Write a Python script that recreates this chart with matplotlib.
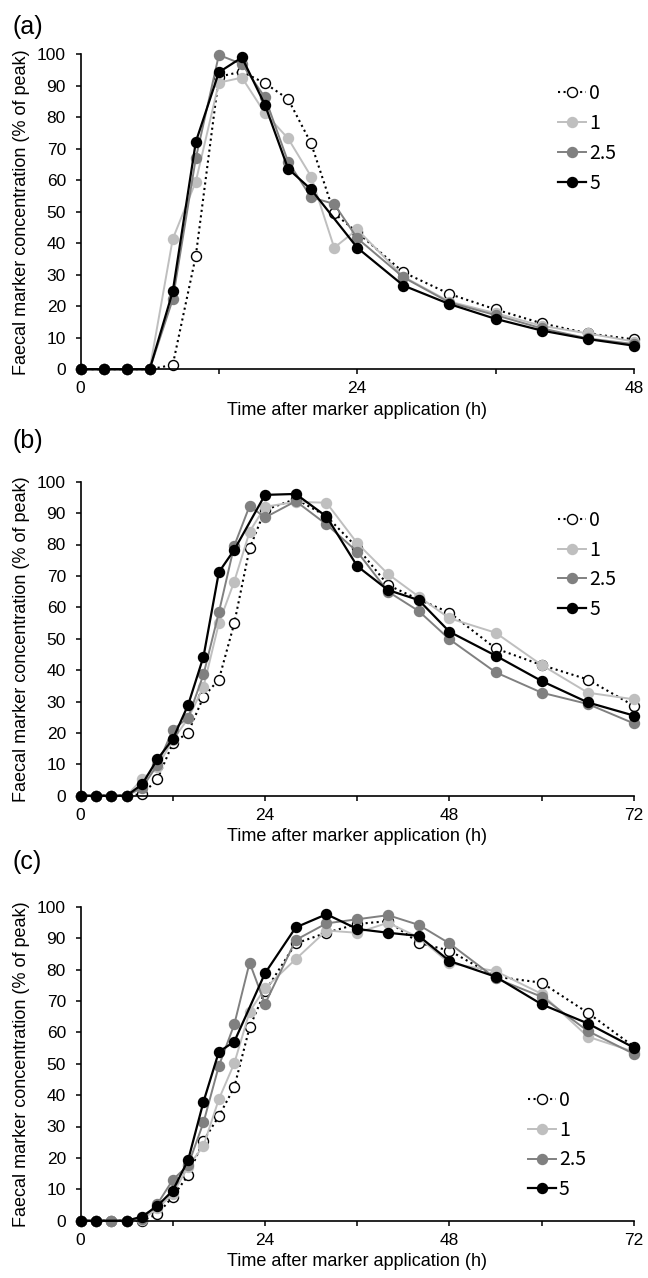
import numpy as np
import matplotlib
matplotlib.use("Agg")
import matplotlib.pyplot as plt

plt.rcParams['font.family'] = ['Liberation Sans', 'DejaVu Sans']

nan = np.nan
# ---------------- data ----------------
series_labels = ["0", "1", "2.5", "5"]

time_a = [0, 2, 4, 6, 8, 10, 12, 14, 16, 18, 20, 22, 24, 28, 32, 36, 40, 44, 48]
a_0   = [0, 0, 0, 0, 1.4, 36.0, 92.9, 94.5, 90.8, 85.8, 71.7, 49.5, 43.5, 30.8, 23.9, 19.0, 14.6, 11.4, 9.5]
a_1   = [0, 0, 0, 0, 41.4, 59.6, 91.0, 92.6, 81.3, 73.3, 61.2, 38.6, 44.4, 29.4, 21.5, 17.8, 13.8, 11.4, 8.8]
a_25  = [0, 0, 0, 0, 22.2, 67.0, 99.8, 96.9, 86.3, 65.9, 54.6, 52.5, 41.6, 29.2, 21.2, 17.2, 13.0, 9.8, 8.0]
a_5   = [0, 0, 0, 0, 24.7, 72.2, 94.3, 99.0, 83.9, 63.7, 57.1, nan, 38.6, 26.6, 20.7, 16.0, 12.3, 9.6, 7.5]

time_b = [0, 2, 4, 6, 8, 10, 12, 14, 16, 18, 20, 22, 24, 28, 32, 36, 40, 44, 48, 54, 60, 66, 72]
b_0   = [0, 0, 0, 0, 0.5, 5.2, 16.7, 20.1, 31.5, 37.0, 54.9, 78.8, 91.0, 94.5, 89.0, 79.0, 67.1, 62.5, 58.3, 46.9, 41.6, 37.0, 28.6]
b_1   = [0, 0, 0, 0, 5.2, 9.2, 17.7, 24.6, 34.7, 54.9, 68.2, 84.1, 92.0, 93.6, 93.3, 80.4, 70.6, 63.4, 56.5, 51.9, 41.6, 32.8, 30.7]
b_25  = [0, 0, 0, 0, 2.5, 9.8, 20.9, 24.9, 38.6, 58.4, 79.6, 92.3, 88.6, 93.8, 86.4, 77.7, 65.0, 58.8, 49.8, 39.3, 32.8, 29.2, 23.0]
b_5   = [0, 0, 0, 0, 3.6, 11.6, 18.0, 28.9, 44.3, 71.2, 78.3, nan, 95.8, 96.1, 88.9, 73.1, 65.5, 62.3, 52.2, 44.6, 36.5, 29.7, 25.5]

time_c = [0, 2, 4, 6, 8, 10, 12, 14, 16, 18, 20, 22, 24, 28, 32, 36, 40, 44, 48, 54, 60, 66, 72]
c_0   = [0, 0, 0, 0, 0.0, 2.1, 7.6, 14.5, 25.5, 33.3, 42.5, 61.6, 73.0, 88.3, 91.7, 94.5, 95.4, 88.5, 86.0, 77.7, 75.8, 66.2, 55.4]
c_1   = [0, 0, 0, 0, 0.3, 3.9, 8.5, 17.2, 23.9, 38.7, 50.1, 66.6, 74.0, 83.3, 92.4, 91.7, 94.9, 90.2, 82.0, 79.5, 72.2, 58.6, 53.8]
c_25  = [0, 0, 0, 0, 0.5, 5.3, 13.0, 17.7, 31.3, 49.3, 62.5, 82.2, 69.0, 89.4, 94.7, 96.0, 97.3, 94.2, 88.3, 77.2, 71.3, 60.4, 53.1]
c_5   = [0, 0, nan, 0, 1.3, 4.7, 9.6, 19.3, 37.9, 53.8, 57.0, nan, 78.8, 93.4, 97.6, 92.9, 91.7, 90.7, 82.7, 77.7, 68.9, 62.8, 55.1]

panels = [
    ("(a)", time_a, [a_0, a_1, a_25, a_5], 48, [0, 24, 48]),
    ("(b)", time_b, [b_0, b_1, b_25, b_5], 72, [0, 24, 48, 72]),
    ("(c)", time_c, [c_0, c_1, c_25, c_5], 72, [0, 24, 48, 72]),
]

# ---------------- style ----------------
styles = [
    dict(color="black", linestyle=":", lw=1.5, marker="o", mfc="white", mec="black", mew=1.0),
    dict(color="#bfbfbf", linestyle="-", lw=1.4, marker="o", mfc="#bfbfbf", mec="#bfbfbf", mew=1.0),
    dict(color="#808080", linestyle="-", lw=1.4, marker="o", mfc="#808080", mec="#808080", mew=1.0),
    dict(color="black", linestyle="-", lw=1.6, marker="o", mfc="black", mec="black", mew=1.0),
]

W, H = 648, 1278
fig = plt.figure(figsize=(W / 100, H / 100), dpi=100)

axes_px = [(54.3, 369.3), (481.7, 795.7), (906.7, 1220.7)]
left_px, right_px = 80.5, 634
legend_anchor = [(0.863, 0.733), (0.863, 0.735), (0.808, 0.241)]
label_y = [27, 441, 862]

for i, (tag, t, ys, xmax, xlabels) in enumerate(panels):
    top, bot = axes_px[i]
    ax = fig.add_axes([left_px / W, 1 - bot / H, (right_px - left_px) / W, (bot - top) / H])
    t = np.array(t, dtype=float)
    for lab, y, st in zip(series_labels, ys, styles):
        y = np.array(y, dtype=float)
        m = ~np.isnan(y)
        ax.plot(t[m], y[m], label=lab, ms=7.2, clip_on=False, **st)
    ax.set_xlim(0, xmax)
    ax.set_ylim(0, 100)
    ax.set_xticks(np.arange(0, xmax + 1, 12))
    ax.set_xticklabels([str(v) if v in xlabels else "" for v in range(0, xmax + 1, 12)])
    ax.set_yticks(np.arange(0, 101, 10))
    for s in ["top", "right"]:
        ax.spines[s].set_visible(False)
    for s in ["left", "bottom"]:
        ax.spines[s].set_linewidth(1.2)
    ax.tick_params(axis="both", direction="out", length=3.5, width=1.1, labelsize=12.5, color="black")
    ax.tick_params(axis="y", pad=7)
    ax.tick_params(axis="x", pad=5)
    ax.set_xlabel("Time after marker application (h)", fontsize=13, labelpad=4)
    ax.set_ylabel("Faecal marker concentration (% of peak)", fontsize=13, labelpad=5)
    ax.patch.set_visible(False)
    leg = ax.legend(loc="center left", bbox_to_anchor=legend_anchor[i], frameon=False,
                    handlelength=1.45, handletextpad=0.15, labelspacing=0.45,
                    borderpad=0, borderaxespad=0, prop={"family": ["Noto Sans CJK JP", "DejaVu Sans"], "size": 14})
    fig.text(12 / W, 1 - label_y[i] / H, tag, fontsize=18, va="center", ha="left")

fig.savefig("out.png", dpi=100)
